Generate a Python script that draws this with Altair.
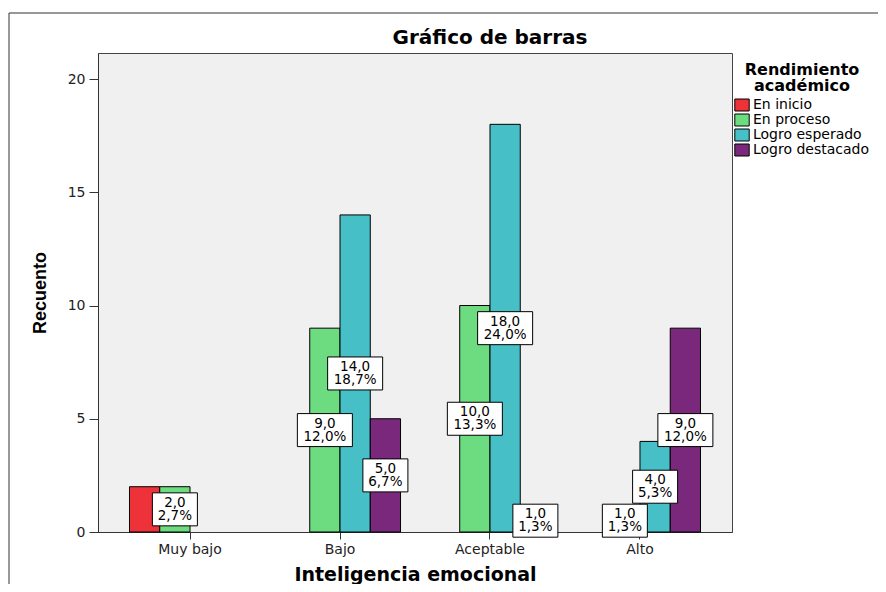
import altair as alt
import pandas as pd

categories = ["Muy bajo", "Bajo", "Aceptable", "Alto"]
series = ["En inicio", "En proceso", "Logro esperado", "Logro destacado"]
en_inicio = [2, None, None, None]
en_proceso = [2, 9, 10, 1]
logro_esperado = [None, 14, 18, 4]
logro_destacado = [None, 5, 1, 9]
colors = ["#EE3239", "#6DDC80", "#47BFC7", "#7A287C"]
hidden_labels = [("Muy bajo", "En inicio")]
y_ticks = [0, 5, 10, 15, 20]

rows = []
for s, vals in zip(series, [en_inicio, en_proceso, logro_esperado, logro_destacado]):
    for c, v in zip(categories, vals):
        if v is None:
            continue
        rows.append({"cat": c, "serie": s, "value": v})
df = pd.DataFrame(rows)
total = df["value"].sum()
df["count_txt"] = df["value"].map(lambda v: f"{v:.1f}".replace(".", ","))
df["pct_txt"] = (df["value"] / total * 100).map(lambda p: f"{p:.1f}".replace(".", ",") + "%")
df["label"] = df["count_txt"] + "\n" + df["pct_txt"]
df["show"] = [(c, s) not in hidden_labels for c, s in zip(df["cat"], df["serie"])]

path_n = "M-1.364,-1L1.364,-1L1.364,1L-1.364,1Z"
path_w = "M-1.667,-1L1.667,-1L1.667,1L-1.667,1Z"
legend_sym = "M-1.2,-1L1.2,-1L1.2,1L-1.2,1Z"

x_enc = alt.X(
    "cat:N",
    sort=categories,
    scale=alt.Scale(domain=categories, paddingInner=0.193, paddingOuter=0.21),
    axis=alt.Axis(
        title="Inteligencia emocional", labelAngle=0, labelFont="DejaVu Sans",
        labelFontSize=14, labelColor="#222", tickSize=7, tickColor="#333",
        domainColor="#333", labelPadding=3, titleFont="DejaVu Sans",
        titleFontSize=19, titleFontWeight="bold", titleColor="black",
        titleX=317, titleY=48, titleBaseline="alphabetic", titleAlign="center",
    ),
)
xoff = alt.XOffset("serie:N", scale=alt.Scale(domain=series, paddingInner=0, paddingOuter=0))
y_scale = alt.Scale(domain=[0, 21.15], nice=False)

y_axis = alt.Axis(
    values=y_ticks, title="Recuento", grid=False, labelFont="DejaVu Sans",
    labelFontSize=14, labelColor="#222", tickSize=9, tickColor="#333",
    domainColor="#333", labelPadding=4, titleFont="Liberation Sans",
    titleFontSize=18, titleFontWeight="bold", titleColor="black",
    titleX=-58, titleY=239.5, titleAngle=270, titleBaseline="middle",
    titleAlign="center",
)

bars = alt.Chart(df).mark_bar(stroke="black", strokeWidth=1).encode(
    x=x_enc,
    xOffset=xoff,
    y=alt.Y("value:Q", scale=y_scale, axis=y_axis),
    color=alt.Color(
        "serie:N", scale=alt.Scale(domain=series, range=colors),
        legend=alt.Legend(
            title=["Rendimiento", "académico"], orient="none", legendX=637, legendY=9,
            titleFont="DejaVu Sans", titleFontSize=16, titleFontWeight="bold",
            titleColor="black", titleAnchor="middle", titleAlign="center",
            titleLineHeight=16, titlePadding=4, labelFont="DejaVu Sans",
            labelFontSize=14, labelColor="black", symbolType=legend_sym,
            symbolSize=144, symbolStrokeColor="black", symbolStrokeWidth=1,
            symbolOpacity=1, rowPadding=-1, labelOffset=4, padding=0,
        ),
    ),
)

labels_base = alt.Chart(df).transform_filter("datum.show").transform_calculate(
    mid="datum.value / 2", box="length(datum.pct_txt) > 4 ? 'w' : 'n'"
)

boxes = labels_base.mark_point(
    filled=True, fill="white", stroke="black", strokeWidth=1, opacity=1, size=1089
).encode(
    x=alt.X("cat:N", sort=categories),
    xOffset=alt.XOffset("serie:N"),
    y=alt.Y("mid:Q", scale=y_scale, axis=y_axis),
    shape=alt.Shape("box:N", scale=alt.Scale(domain=["n", "w"], range=[path_n, path_w]), legend=None),
)

texts = labels_base.mark_text(
    lineBreak="\n", font="DejaVu Sans", fontSize=13.5, lineHeight=13,
    baseline="middle", align="center", color="black", dy=-6.5,
).encode(
    x=alt.X("cat:N", sort=categories),
    xOffset=alt.XOffset("serie:N"),
    y=alt.Y("mid:Q", scale=y_scale, axis=y_axis),
    text="label:N",
)

frame_data = pd.DataFrame({"k": [0]})
frame_left = alt.Chart(frame_data).mark_rule(color="#333", strokeWidth=1).encode(
    x=alt.value(-89), y=alt.value(-40), y2=alt.value(560)
)
frame_top = alt.Chart(frame_data).mark_rule(color="#333", strokeWidth=1).encode(
    x=alt.value(-89), x2=alt.value(800), y=alt.value(-40)
)

chart = alt.layer(bars, boxes, texts, frame_left, frame_top).properties(
    width=634,
    height=479,
    background="white",
    autosize=alt.AutoSizeParams(type="none"),
    padding={"left": 90, "top": 45, "right": 146, "bottom": 52},
    title=alt.TitleParams(
        text="Gráfico de barras", font="DejaVu Sans", fontSize=20, fontWeight="bold",
        color="black", anchor="middle", dx=75, offset=-51, baseline="alphabetic",
    ),
).configure_view(fill="#F0F0F0", stroke="#444", strokeWidth=1).configure_axisY(
    tickSize=9, labelPadding=4
)

chart.save("out.html", embed_options={"renderer": "svg", "actions": False})
